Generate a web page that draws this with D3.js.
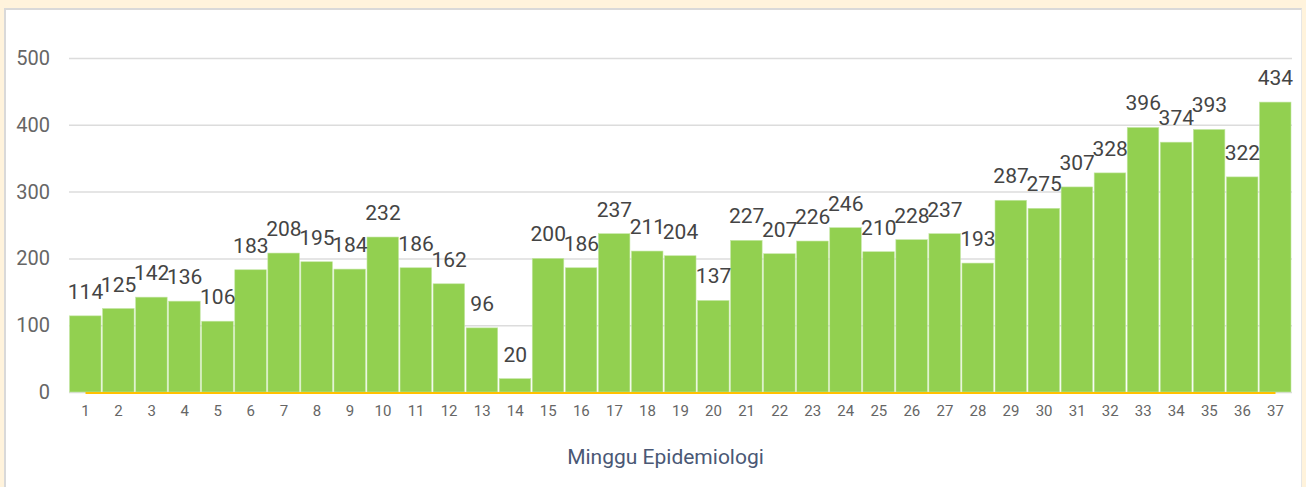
<!DOCTYPE html>
<html>
<head>
<meta charset="utf-8">
<script src="https://cdn.jsdelivr.net/npm/d3@7"></script>
<style>
  html, body { margin: 0; padding: 0; background: #fff3dc; }
  body { width: 1306px; height: 487px; overflow: hidden; font-family: Roboto, sans-serif; }
  .card { position: absolute; left: 4px; top: 8px; width: 1298px; height: 479px;
          background: #fff; border-left: 2px solid #d9d9d9; border-top: 2px solid #d9d9d9;
          border-right: 1px solid #e6e6e6; box-sizing: border-box; }
  svg { position: absolute; left: 0; top: 0; }
</style>
</head>
<body>
<div class="card"></div>
<div id="chart"></div>
<script>
const weeks = d3.range(1, 38).map(String);
const cases = [114, 125, 142, 136, 106, 183, 208, 195, 184, 232, 186, 162, 96, 20,
  200, 186, 237, 211, 204, 137, 227, 207, 226, 246, 210, 228, 237, 193,
  287, 275, 307, 328, 396, 374, 393, 322, 434];
const yTicks = [0, 100, 200, 300, 400, 500];

const width = 1306, height = 487;
const margin = {top: 58, right: 14, bottom: 94, left: 69};

const svg = d3.select('#chart').append('svg')
  .attr('width', width)
  .attr('height', height);

const x = d3.scaleBand()
  .domain(weeks)
  .range([margin.left, width - margin.right])
  .paddingInner(0)
  .paddingOuter(0);

const y = d3.scaleLinear()
  .domain([0, 500])
  .range([height - margin.bottom - 1, margin.top]);

// gridlines
const yAxis = d3.axisLeft(y).tickValues(yTicks).tickSize(-(width - margin.left - margin.right)).tickPadding(19);
const yG = svg.append('g')
  .attr('transform', `translate(${margin.left},0)`)
  .call(yAxis);
yG.select('.domain').remove();
yG.selectAll('.tick line').attr('stroke', '#dcdcdc').attr('stroke-width', 1.5);
yG.selectAll('.tick text')
  .attr('fill', '#666')
  .style('font-family', 'Roboto, sans-serif')
  .style('font-size', '20px');

// bars
svg.selectAll('rect.bar')
  .data(cases)
  .enter().append('rect')
  .attr('class', 'bar')
  .attr('x', (d, i) => x(weeks[i]) + 0.5)
  .attr('y', d => y(d))
  .attr('width', x.bandwidth() - 1.5)
  .attr('height', d => y(0) - y(d))
  .attr('fill', '#92d050')
  .attr('stroke', '#c4e6a4')
  .attr('stroke-width', 0.6);

// zero line across categories
svg.append('line')
  .attr('x1', x(weeks[0]) + x.bandwidth() / 2)
  .attr('x2', x(weeks[weeks.length - 1]) + x.bandwidth() / 2)
  .attr('y1', y(0) + 1)
  .attr('y2', y(0) + 1)
  .attr('stroke', '#ffc000')
  .attr('stroke-width', 2);

// value labels
svg.selectAll('text.val')
  .data(cases)
  .enter().append('text')
  .attr('class', 'val')
  .attr('x', (d, i) => x(weeks[i]) + x.bandwidth() / 2)
  .attr('y', d => y(d) - 17)
  .attr('text-anchor', 'middle')
  .attr('fill', '#444')
  .style('font-family', 'Roboto, sans-serif')
  .style('font-size', '21px')
  .text(d => d);

// x axis
const xAxis = d3.axisBottom(x).tickSize(0).tickPadding(12);
const xG = svg.append('g')
  .attr('transform', `translate(0,${y(0) + 1})`)
  .call(xAxis);
xG.select('.domain').remove();
xG.selectAll('.tick text')
  .attr('fill', '#666')
  .style('font-family', 'Roboto, sans-serif')
  .style('font-size', '15px');

svg.append('text')
  .attr('x', (margin.left + width - margin.right) / 2 - 15)
  .attr('y', 464)
  .attr('text-anchor', 'middle')
  .attr('fill', '#4a5875')
  .style('font-family', 'Roboto, sans-serif')
  .style('font-size', '21px')
  .text('Minggu Epidemiologi');
</script>
</body>
</html>
